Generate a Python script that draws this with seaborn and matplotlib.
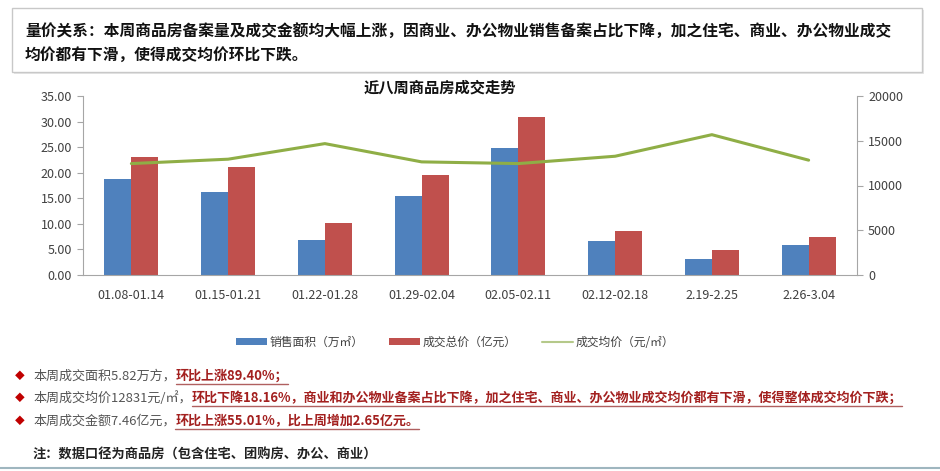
import matplotlib
matplotlib.use("Agg")
import numpy as np
import pandas as pd
import matplotlib.pyplot as plt
import seaborn as sns
from matplotlib.patches import Rectangle, Patch
from matplotlib.lines import Line2D

# -------------------------------------------------------------
#  Datos — ultimas ocho semanas
# -------------------------------------------------------------

weeks = ["01.08-01.14", "01.15-01.21", "01.22-01.28", "01.29-02.04",
         "02.05-02.11", "02.12-02.18", "2.19-2.25", "2.26-3.04"]
area_wan = [18.75, 16.3, 6.9, 15.4, 24.75, 6.6, 3.07, 5.82]        # 万㎡
total_yi = [23.0, 21.2, 10.2, 19.5, 30.8, 8.6, 4.81, 7.46]         # 亿元
avg_price = [12450, 12940, 14680, 12640, 12450, 13270, 15678, 12831]  # 元/㎡

series_names = ["销售面积（万㎡）", "成交总价（亿元）", "成交均价（元/㎡）"]
left_ticks = [0, 5, 10, 15, 20, 25, 30, 35]
right_ticks = [0, 5000, 10000, 15000, 20000]

header_lines = [
    "量价关系：本周商品房备案量及成交金额均大幅上涨，因商业、办公物业销售备案占比下降，加之住宅、商业、办公物业成交",
    "均价都有下滑，使得成交均价环比下跌。",
]
chart_title = "近八周商品房成交走势"
bullets = [
    ("本周成交面积5.82万方，", "环比上涨89.40%；"),
    ("本周成交均价12831元/㎡，",
     "环比下降18.16%，商业和办公物业备案占比下降，加之住宅、商业、办公物业成交均价都有下滑，使得整体成交均价下跌；"),
    ("本周成交金额7.46亿元，", "环比上涨55.01%，比上周增加2.65亿元。"),
]
note = "注：数据口径为商品房（包含住宅、团购房、办公、商业）"

BLUE = "#4F81BD"
RED = "#C0504D"
GREEN = "#8FAE46"
DARK_RED = "#A3201F"
AXIS_GRAY = "#A6A6A6"
TXT = "#404040"

sns.set_style("white")
plt.rcParams["font.family"] = ["Noto Sans CJK SC", "DejaVu Sans"]

W, H = 940, 471
fig = plt.figure(figsize=(W / 100, H / 100), dpi=100)
renderer = fig.canvas.get_renderer()


def fx(px):
    return px / W


def fy(py):
    return 1 - py / H


# -------------------------------------------------------------
#  Recuadro superior con el texto resumen
# -------------------------------------------------------------

fig.add_artist(Rectangle((fx(14), fy(74)), fx(910), 64 / H, transform=fig.transFigure,
                         facecolor="#E6E6E6", edgecolor="none", zorder=0))
fig.add_artist(Rectangle((fx(12), fy(72)), fx(910), 64 / H, transform=fig.transFigure,
                         facecolor="white", edgecolor="#C8C8C8", lw=1, zorder=1))
fig.text(fx(25), fy(31), header_lines[0], fontsize=11.3, fontweight="bold",
         color="#111111", va="center", ha="left", zorder=2)
fig.text(fx(25), fy(55), header_lines[1], fontsize=11.3, fontweight="bold",
         color="#111111", va="center", ha="left", zorder=2)

fig.text(fx(440), fy(88), chart_title, fontsize=11, fontweight="bold",
         color="#111111", ha="center", va="center")

# -------------------------------------------------------------
#  Grafico de barras + linea en eje secundario
# -------------------------------------------------------------

ax = fig.add_axes([fx(83), fy(275), fx(857 - 83), (275 - 96) / H])

df = pd.DataFrame({
    "week": weeks * 2,
    "serie": [series_names[0]] * len(weeks) + [series_names[1]] * len(weeks),
    "valor": area_wan + total_yi,
})
sns.barplot(data=df, x="week", y="valor", hue="serie", order=weeks,
            hue_order=series_names[:2], palette=[BLUE, RED], width=0.56,
            linewidth=0, saturation=1, legend=False, ax=ax)

ax.set_ylim(0, 35)
ax.set_xlim(-0.5, len(weeks) - 0.5)
ax.set_yticks(left_ticks)
ax.set_yticklabels([f"{v:.2f}" for v in left_ticks], fontsize=9, color=TXT)
ax.set_xticks(range(len(weeks)))
ax.set_xticklabels(weeks, fontsize=9, color=TXT)
ax.set_xticks(np.arange(-0.5, len(weeks), 1.0), minor=True)
ax.tick_params(axis="x", which="major", length=0, pad=10)
ax.tick_params(axis="x", which="minor", length=4, color=AXIS_GRAY, direction="out")
ax.tick_params(axis="y", length=4, color=AXIS_GRAY, direction="out", pad=4)
ax.set_xlabel("")
ax.set_ylabel("")
for side in ["top", "right"]:
    ax.spines[side].set_visible(False)
for side in ["left", "bottom"]:
    ax.spines[side].set_color(AXIS_GRAY)
    ax.spines[side].set_linewidth(0.8)

ax2 = ax.twinx()
sns.lineplot(x=np.arange(len(weeks)), y=avg_price, color=GREEN, linewidth=2.2, ax=ax2)
ax2.set_ylim(0, 20000)
ax2.set_yticks(right_ticks)
ax2.set_yticklabels([str(v) for v in right_ticks], fontsize=9, color=TXT)
ax2.tick_params(axis="y", length=4, color=AXIS_GRAY, direction="out", pad=4)
for side in ["top", "left", "bottom"]:
    ax2.spines[side].set_visible(False)
ax2.spines["right"].set_color(AXIS_GRAY)
ax2.spines["right"].set_linewidth(0.8)
ax2.set_ylabel("")

# -------------------------------------------------------------
#  Leyenda inferior
# -------------------------------------------------------------

handles = [
    Patch(facecolor=BLUE, edgecolor="none"),
    Patch(facecolor=RED, edgecolor="none"),
    Line2D([0], [0], color="#B5C98A", lw=1.5),
]
fig.legend(handles, series_names, loc="center", bbox_to_anchor=(fx(455), fy(342)),
           ncol=3, frameon=False, fontsize=8.5, handlelength=2.6, handleheight=0.6,
           handletextpad=0.2, columnspacing=2.2, labelcolor=TXT)

# -------------------------------------------------------------
#  Comentarios con tramos en rojo subrayado
# -------------------------------------------------------------

for y_px, (plain, hot) in zip([376, 398, 421], bullets):
    fig.text(fx(20), fy(y_px), "◆", color="#C00000", fontsize=7, ha="center", va="center")
    t1 = fig.text(fx(33), fy(y_px), plain, fontsize=9.4, color="#555555",
                  ha="left", va="center")
    bb1 = t1.get_window_extent(renderer)
    t2 = fig.text(bb1.x1 / W, fy(y_px), hot, fontsize=9.4, color=DARK_RED,
                  fontweight="bold", ha="left", va="center")
    bb2 = t2.get_window_extent(renderer)
    fig.add_artist(Line2D([bb2.x0 / W, bb2.x1 / W], [(bb2.y0 - 1) / H] * 2,
                          transform=fig.transFigure, color="#B06060", lw=1))

fig.text(fx(32), fy(455), note, fontsize=9.5, fontweight="bold", color="#222222",
         ha="left", va="center")

fig.add_artist(Line2D([0, 1], [fy(468)] * 2, transform=fig.transFigure,
                      color="#9FB6BF", lw=1.5))

fig.savefig("out.png", dpi=100, facecolor="white")
plt.close(fig)
